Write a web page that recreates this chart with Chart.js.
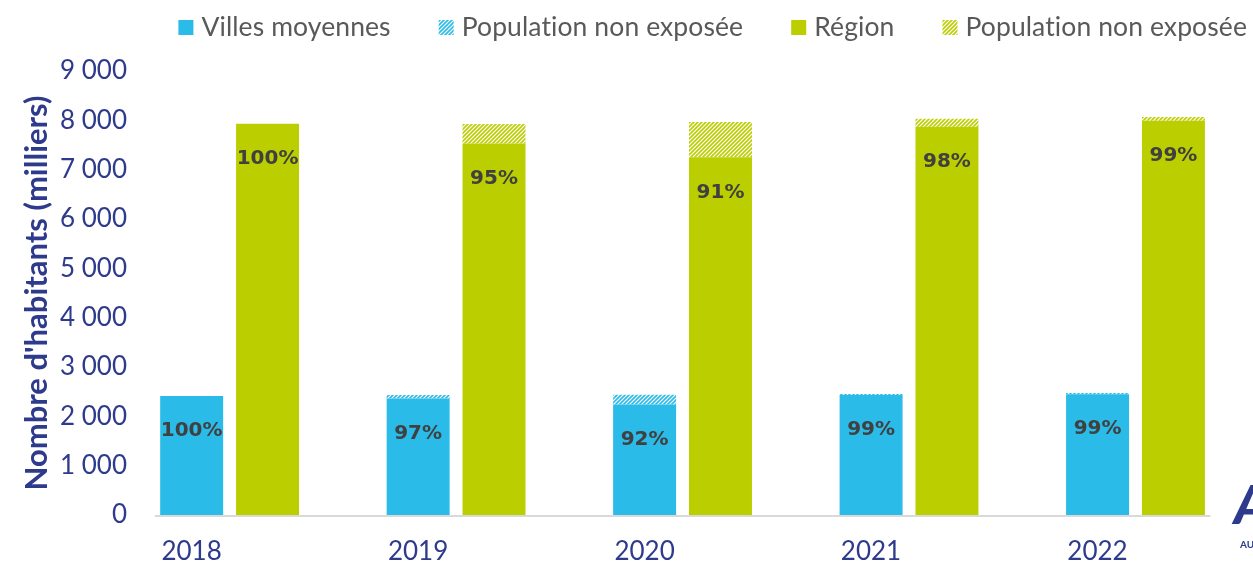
<!DOCTYPE html>
<html lang="fr">
<head>
<meta charset="utf-8">
<script src="https://cdn.jsdelivr.net/npm/chart.js@4.4.1/dist/chart.umd.min.js"></script>
<style>
  html, body { margin: 0; padding: 0; background: #ffffff; }
  #wrap { width: 1253px; height: 564px; position: relative; }
</style>
</head>
<body>
<div id="wrap"><canvas id="chart" width="1253" height="564"></canvas></div>
<script>
// Années
const years = ['2018', '2019', '2020', '2021', '2022'];

// Population (milliers d'habitants) — villes moyennes
const villesExposee = [2410, 2360, 2240, 2430, 2450];
const villesNonExposee = [0, 70, 195, 25, 25];
const villesPct = ['100%', '97%', '92%', '99%', '99%'];

// Population (milliers d'habitants) — région
const regionExposee = [7930, 7530, 7250, 7870, 7990];
const regionNonExposee = [0, 395, 715, 160, 80];
const regionPct = ['100%', '95%', '91%', '98%', '99%'];

// Graduations de l'axe vertical
const yTicks = [0, 1000, 2000, 3000, 4000, 5000, 6000, 7000, 8000, 9000];

const BLUE = '#2ABBE8';
const GREEN = '#BBCE00';
const NAVY = '#2E3A8C';

// Motif hachuré (diagonales montantes) pour la population non exposée
function hatch(color) {
  const c = document.createElement('canvas');
  c.width = 4; c.height = 4;
  const g = c.getContext('2d');
  g.fillStyle = '#ffffff';
  g.fillRect(0, 0, 4, 4);
  g.strokeStyle = color;
  g.lineWidth = 1.6;
  g.beginPath();
  g.moveTo(-1, 5); g.lineTo(5, -1);
  g.moveTo(-3, 3); g.lineTo(3, -3);
  g.moveTo(1, 7); g.lineTo(7, 1);
  g.stroke();
  return g.createPattern(c, 'repeat');
}

const fmt = v => String(v).replace(/\B(?=(\d{3})+(?!\d))/g, ' ');

// Trait de base sous les barres
const baseline = {
  id: 'baseline',
  beforeDatasetsDraw(chart) {
    const x = chart.scales.x, y = chart.scales.y;
    const ctx = chart.ctx;
    const step = x.getPixelForValue(1) - x.getPixelForValue(0);
    const y0 = y.getPixelForValue(0) + 1;
    ctx.save();
    ctx.strokeStyle = '#D9D9D9';
    ctx.lineWidth = 2;
    ctx.beginPath();
    ctx.moveTo(x.getPixelForValue(0) - step * 0.33, y0);
    ctx.lineTo(x.getPixelForValue(years.length - 1) + step * 0.33, y0);
    ctx.stroke();
    ctx.restore();
  }
};

// Part de population exposée, inscrite en haut de chaque barre pleine
const pctLabels = {
  id: 'pctLabels',
  afterDatasetsDraw(chart) {
    const ctx = chart.ctx;
    ctx.save();
    ctx.font = 'bold 20px "DejaVu Sans"';
    ctx.fillStyle = '#404040';
    ctx.textAlign = 'center';
    ctx.textBaseline = 'middle';
    [[0, villesPct], [2, regionPct]].forEach(([di, texts]) => {
      chart.getDatasetMeta(di).data.forEach((el, i) => {
        ctx.fillText(texts[i], el.x, el.y + 35);
      });
    });
    ctx.restore();
  }
};

// Légende en haut, alignée à droite
const topLegend = {
  id: 'topLegend',
  afterDraw(chart) {
    const ctx = chart.ctx;
    ctx.save();
    ctx.font = '26.5px Lato';
    if ('letterSpacing' in ctx) ctx.letterSpacing = '0.1px';
    const box = 15, gapText = 8, gapItem = 48;
    const items = chart.data.datasets.map(d => ({ text: d.label, fill: d.backgroundColor }));
    const widths = items.map(it => box + gapText + ctx.measureText(it.text).width);
    const total = widths.reduce((a, b) => a + b, 0) + gapItem * (items.length - 1);
    let x = 1247 - total;
    items.forEach((it, i) => {
      ctx.fillStyle = it.fill;
      ctx.fillRect(x, 20, box, box);
      ctx.fillStyle = '#595959';
      ctx.textBaseline = 'alphabetic';
      ctx.textAlign = 'left';
      ctx.fillText(it.text, x + box + gapText, 36);
      x += widths[i] + gapItem;
    });
    if ('letterSpacing' in ctx) ctx.letterSpacing = '0px';
    // logo partiellement visible en bas à droite
    ctx.fillStyle = NAVY;
    ctx.font = 'italic 900 54px Lato';
    ctx.fillText('A', 1234, 524);
    ctx.font = 'bold 10px Lato';
    ctx.fillText('AU', 1240, 548);
    ctx.restore();
  }
};

new Chart(document.getElementById('chart'), {
  type: 'bar',
  data: {
    labels: years,
    datasets: [
      { label: 'Villes moyennes', data: villesExposee, backgroundColor: BLUE, stack: 'villes' },
      { label: 'Population non exposée', data: villesNonExposee, backgroundColor: hatch(BLUE), stack: 'villes' },
      { label: 'Région', data: regionExposee, backgroundColor: GREEN, stack: 'region' },
      { label: 'Population non exposée', data: regionNonExposee, backgroundColor: hatch(GREEN), stack: 'region' }
    ]
  },
  options: {
    responsive: false,
    animation: false,
    layout: { padding: { top: 71, right: 117.5, bottom: 0, left: 0 } },
    datasets: {
      bar: { barPercentage: 0.83, categoryPercentage: 0.67, borderWidth: 0, clip: false }
    },
    plugins: {
      legend: { display: false },
      tooltip: { enabled: false }
    },
    scales: {
      x: {
        stacked: true,
        offset: false,
        grid: { display: false, drawTicks: false },
        border: { display: false },
        ticks: {
          color: NAVY,
          font: { family: 'Lato', size: 26 },
          padding: 21,
          labelOffset: -38,
          maxRotation: 0,
          autoSkip: false
        },
        afterFit(s) { s.height = 49; s.paddingLeft = 0; s.paddingRight = 0; }
      },
      y: {
        stacked: true,
        min: 0,
        max: 9000,
        afterBuildTicks(s) { s.ticks = yTicks.map(v => ({ value: v })); },
        grid: { display: false, drawTicks: false },
        border: { display: false },
        ticks: {
          color: NAVY,
          font: { family: 'Lato', size: 26 },
          padding: 102.6,
          callback: v => fmt(v)
        },
        title: {
          display: true,
          text: "Nombre d'habitants (milliers)",
          color: NAVY,
          font: { family: 'Lato', size: 31, weight: 'bold' },
          padding: { top: 18, bottom: 0 }
        },
        afterFit(s) { s.width = 229.6; s.paddingTop = 16; s.paddingBottom = 16; }
      }
    }
  },
  plugins: [baseline, pctLabels, topLegend]
});
</script>
</body>
</html>
